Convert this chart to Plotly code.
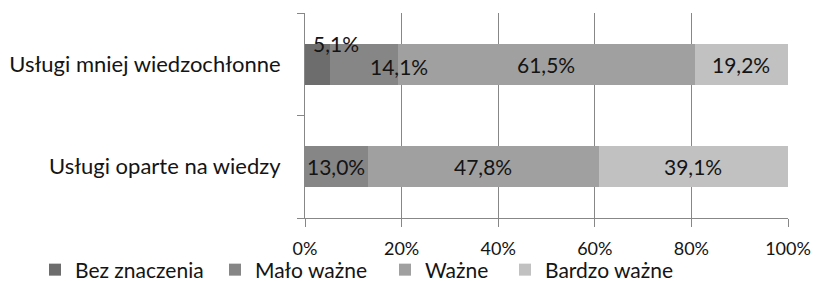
import plotly.graph_objects as go

categories = ["Usługi oparte na wiedzy", "Usługi mniej wiedzochłonne"]
series_names = ["Bez znaczenia", "Mało ważne", "Ważne", "Bardzo ważne"]
bez_znaczenia = [0.0, 5.1]
malo_wazne = [13.0, 14.1]
wazne = [47.8, 61.5]
bardzo_wazne = [39.1, 19.2]
tick_vals = [0, 20, 40, 60, 80, 100]
tick_text = ["0%", "20%", "40%", "60%", "80%", "100%"]

series = [bez_znaczenia, malo_wazne, wazne, bardzo_wazne]
colors = ["#6d6d6d", "#868686", "#a0a0a0", "#c1c1c1"]
FONT = "Lato, Open Sans, sans-serif"
TXT = "#141414"
AXC = "#878787"

legend_names = ["legend", "legend2", "legend3", "legend4"]
legend_x_px = [35, 215, 385, 505]

fig = go.Figure()
for name, vals, col, lg in zip(series_names, series, colors, legend_names):
    fig.add_trace(go.Bar(
        y=categories, x=vals, name=name, orientation="h",
        marker=dict(color=col, line=dict(width=0)), legend=lg,
        hoverinfo="skip",
    ))

# data labels
label_shift = {(0, 1): (19, -21), (1, 1): (35, 2)}
for j in range(len(categories)):
    cum = 0.0
    for i, vals in enumerate(series):
        v = vals[j]
        if v > 0:
            dx, dy = label_shift.get((i, j), (0, 0))
            fig.add_annotation(
                x=cum + v / 2, y=categories[j], xref="x", yref="y",
                text=f"{v:.1f}".replace(".", ",") + "%",
                showarrow=False, xshift=dx, yshift=-dy,
                font=dict(family=FONT, size=21, color=TXT),
            )
        cum += v

legend_common = dict(
    orientation="h", xref="container", yref="container",
    xanchor="left", yanchor="middle", y=(281 - 270) / 281,
    font=dict(family=FONT, size=21, color=TXT),
    itemclick=False, itemdoubleclick=False, bgcolor="rgba(0,0,0,0)",
)
legends = {}
for lg, px in zip(legend_names, legend_x_px):
    legends[lg] = dict(legend_common, x=px / 818)

fig.update_layout(
    barmode="stack",
    bargap=0.603,
    width=818, height=281,
    margin=dict(l=305, r=30, t=13, b=63, autoexpand=False),
    paper_bgcolor="white", plot_bgcolor="white",
    font=dict(family=FONT, size=18, color=TXT),
    showlegend=True,
    xaxis=dict(
        range=[0, 100], tickvals=tick_vals, ticktext=tick_text,
        showgrid=True, gridcolor=AXC, gridwidth=1,
        showline=True, linecolor=AXC, linewidth=1,
        ticks="outside", ticklen=8, tickcolor=AXC,
        zeroline=False, fixedrange=True, automargin=False,
        tickfont=dict(family=FONT, size=18, color=TXT),
        ticklabelstandoff=6,
    ),
    yaxis=dict(
        categoryorder="array", categoryarray=categories,
        showline=True, linecolor=AXC, linewidth=1,
        ticks="outside", ticklen=7, tickcolor=AXC,
        tickson="boundaries", showgrid=False, zeroline=False,
        automargin=False, fixedrange=True,
        tickfont=dict(family=FONT, size=22, color=TXT),
        ticklabelstandoff=19,
    ),
    **legends,
)

fig.write_html(
    "out.html",
    config={"displayModeBar": False},
    post_script="document.body.style.margin='0';document.body.style.overflow='hidden';",
)
